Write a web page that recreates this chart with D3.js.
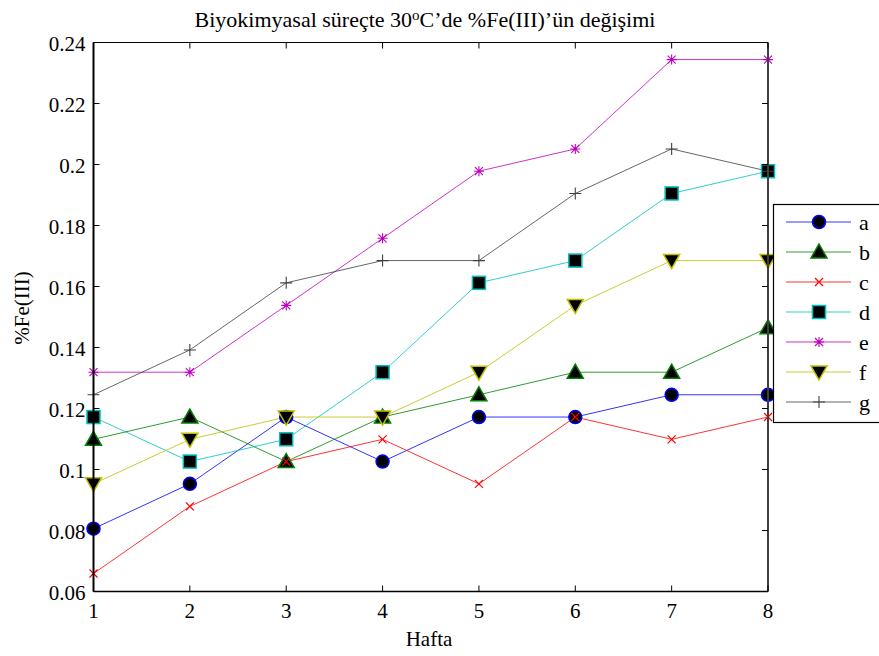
<!DOCTYPE html>
<html><head><meta charset="utf-8">
<script src="https://cdn.jsdelivr.net/npm/d3@7"></script>
<style>body{margin:0;background:#fff}</style>
</head><body><svg id="c" width="879" height="656"></svg>
<script>
const weeks = [1,2,3,4,5,6,7,8];
const a = [0.0806,0.0953,0.1172,0.1026,0.1172,0.1172,0.1245,0.1245];
const b = [0.1099,0.1172,0.1026,0.1172,0.1245,0.1319,0.1319,0.1465];
const c = [0.0659,0.0879,0.1026,0.1099,0.0953,0.1172,0.1099,0.1172];
const d = [0.1172,0.1026,0.1099,0.1319,0.1612,0.1685,0.1905,0.1978];
const e = [0.1319,0.1319,0.1538,0.1758,0.1978,0.2051,0.2344,0.2344];
const f = [0.0953,0.1099,0.1172,0.1172,0.1319,0.1538,0.1685,0.1685];
const g = [0.1245,0.1392,0.1612,0.1685,0.1685,0.1905,0.2051,0.1978];
const seriesNames = ["a","b","c","d","e","f","g"];
const seriesValues = [a,b,c,d,e,f,g];
const colors = ["#0000ff","#008000","#ff0000","#00bfbf","#bf00bf","#bfbf00","#404040"];
const markers = ["circle","triUp","x","square","star","triDown","plus"];
const yTicks = [0.06,0.08,0.1,0.12,0.14,0.16,0.18,0.2,0.22,0.24];
const yTickLabels = ["0.06","0.08","0.1","0.12","0.14","0.16","0.18","0.2","0.22","0.24"];

const FONT = "Liberation Serif";
const svg = d3.select("#c");
const L=93.5, R=768, T=42.5, B=591.5;
const x = d3.scaleLinear().domain([1,8]).range([L,R]);
const y = d3.scaleLinear().domain([0.06,0.24]).range([B,T]);

const line = d3.line().x((v,i)=>x(weeks[i])).y(v=>y(v));
seriesValues.forEach((vals,k)=>{
  svg.append("path").attr("d",line(vals)).attr("fill","none")
    .attr("stroke",colors[k]).attr("stroke-width",1).attr("stroke-opacity",0.8);
});

function drawMarker(sel, type, col, cx, cy){
  const gg = sel.append("g").attr("transform",`translate(${cx},${cy})`);
  if(type==="circle"){
    gg.append("circle").attr("r",6.5).attr("fill","#000").attr("stroke",col).attr("stroke-width",1.5);
  } else if(type==="triUp"){
    gg.append("path").attr("d","M0,-8 L8,6 L-8,6 Z").attr("fill","#000").attr("stroke",col).attr("stroke-width",1.5);
  } else if(type==="triDown"){
    gg.append("path").attr("d","M0,8 L8,-6 L-8,-6 Z").attr("fill","#000").attr("stroke",col).attr("stroke-width",1.5);
  } else if(type==="square"){
    gg.append("rect").attr("x",-6.5).attr("y",-6.5).attr("width",13).attr("height",13).attr("fill","#000").attr("stroke",col).attr("stroke-width",1.5);
  } else if(type==="x"){
    gg.append("path").attr("d","M-4,-4 L4,4 M-4,4 L4,-4").attr("stroke",col).attr("stroke-width",1.2);
  } else if(type==="star"){
    gg.append("path").attr("d","M-5,0 L5,0 M0,-5 L0,5 M-4,-4 L4,4 M-4,4 L4,-4").attr("stroke",col).attr("stroke-width",1.1);
  } else if(type==="plus"){
    gg.append("path").attr("d","M-6,0 L6,0 M0,-6 L0,6").attr("stroke",col).attr("stroke-width",1.1);
  }
}
seriesValues.forEach((vals,k)=>{
  vals.forEach((v,i)=>drawMarker(svg, markers[k], colors[k], x(weeks[i]), y(v)));
});

const ax = svg.append("g");
ax.append("line").attr("x1",L).attr("x2",R).attr("y1",B).attr("y2",B).attr("stroke","#000").attr("stroke-width",1.5);
ax.append("line").attr("x1",L).attr("x2",R).attr("y1",T).attr("y2",T).attr("stroke","#000").attr("stroke-width",1.2);
ax.append("line").attr("x1",L).attr("x2",L).attr("y1",T).attr("y2",B).attr("stroke","#000").attr("stroke-width",2);
ax.append("line").attr("x1",R).attr("x2",R).attr("y1",T).attr("y2",B).attr("stroke","#404040").attr("stroke-width",2);

weeks.forEach(w=>{
  ax.append("line").attr("x1",x(w)).attr("x2",x(w)).attr("y1",B).attr("y2",B-6).attr("stroke","#000");
  ax.append("line").attr("x1",x(w)).attr("x2",x(w)).attr("y1",T).attr("y2",T+6).attr("stroke","#000");
  ax.append("text").attr("font-family",FONT).attr("x",x(w)).attr("y",B+26).attr("text-anchor","middle").attr("font-size",21).text(w);
});
yTicks.forEach((t,i)=>{
  ax.append("line").attr("x1",L).attr("x2",L+6).attr("y1",y(t)).attr("y2",y(t)).attr("stroke","#000");
  ax.append("line").attr("x1",R).attr("x2",R-6).attr("y1",y(t)).attr("y2",y(t)).attr("stroke","#000");
  ax.append("text").attr("font-family",FONT).attr("x",L-8).attr("y",y(t)+8).attr("text-anchor","end").attr("font-size",21).text(yTickLabels[i]);
});

const title = svg.append("text").attr("font-family",FONT).attr("x",425).attr("y",27).attr("text-anchor","middle").attr("font-size",22);
title.append("tspan").text("Biyokimyasal süreçte 30");
title.append("tspan").attr("font-size",15).attr("dy",-7).text("o");
title.append("tspan").attr("dy",7).text("C’de %Fe(III)’ün değişimi");

svg.append("text").attr("font-family",FONT).attr("x",429).attr("y",646).attr("text-anchor","middle").attr("font-size",21).text("Hafta");
svg.append("text").attr("font-family",FONT).attr("transform",`translate(29,308) rotate(-90)`).attr("text-anchor","middle").attr("font-size",21).text("%Fe(III)");

const lg = svg.append("g");
lg.append("rect").attr("x",773.5).attr("y",204.5).attr("width",140).attr("height",218).attr("fill","#fff").attr("stroke","#000").attr("stroke-width",1.2);
seriesNames.forEach((n,k)=>{
  const ly = 222 + k*30;
  lg.append("line").attr("x1",786).attr("x2",851).attr("y1",ly).attr("y2",ly).attr("stroke",colors[k]).attr("stroke-opacity",0.8);
  drawMarker(lg, markers[k], colors[k], 819, ly);
  lg.append("text").attr("font-family",FONT).attr("x",859).attr("y",ly+8).attr("font-size",22).text(n);
});
</script></body></html>
